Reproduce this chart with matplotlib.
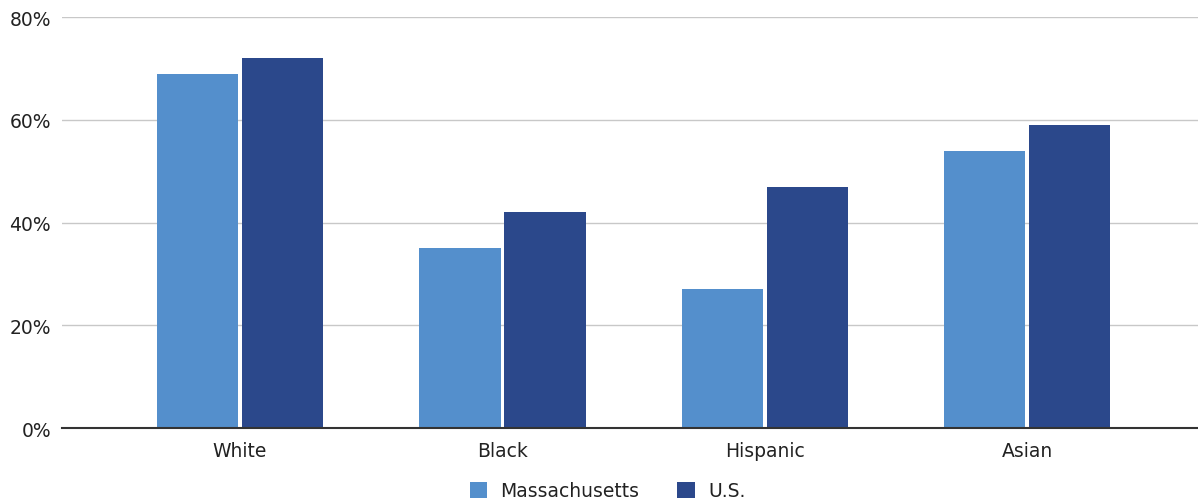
import matplotlib
matplotlib.use("Agg")
import matplotlib.pyplot as plt
import numpy as np
from matplotlib.ticker import FuncFormatter

plt.rcParams['font.family'] = ['DejaVu Sans']

categories = ["White", "Black", "Hispanic", "Asian"]
massachusetts = [69, 35, 27, 54]
us = [72, 42, 47, 59]
series_names = ["Massachusetts", "U.S."]
colors = ["#548FCC", "#2B488B"]

fig = plt.figure(figsize=(11.98, 5.02), dpi=100)
ax = fig.add_axes([0.0518, 0.1454, 0.9482, 0.8187])

x = np.arange(len(categories))
w = 0.309
off = 0.162
ax.bar(x - off, massachusetts, width=w, color=colors[0], label=series_names[0], zorder=3)
ax.bar(x + off, us, width=w, color=colors[1], label=series_names[1], zorder=3)

ax.set_xlim(-0.678, 3.65)
ax.set_ylim(0, 80)
ax.set_yticks([0, 20, 40, 60, 80])
ax.yaxis.set_major_formatter(FuncFormatter(lambda v, p: f"{int(v)}%"))
ax.set_xticks(x)
ax.set_xticklabels(categories)
ax.tick_params(axis='both', length=0, labelsize=13.5, colors='#222222')
ax.tick_params(axis='x', pad=9)
ax.tick_params(axis='y', pad=8)

ax.grid(axis='y', color='#C8C8C8', linewidth=1, zorder=0)
for s in ['top', 'right', 'left']:
    ax.spines[s].set_visible(False)
ax.spines['bottom'].set_color('#333333')
ax.spines['bottom'].set_linewidth(1.5)
ax.spines['bottom'].set_zorder(4)

fig.legend(loc='lower center', bbox_to_anchor=(0.507, -0.032), ncol=2, frameon=False,
           fontsize=13.5, handlelength=0.95, handleheight=0.95, columnspacing=2.0,
           handletextpad=0.7, labelcolor='#222222')

fig.savefig("out.png", dpi=100)
